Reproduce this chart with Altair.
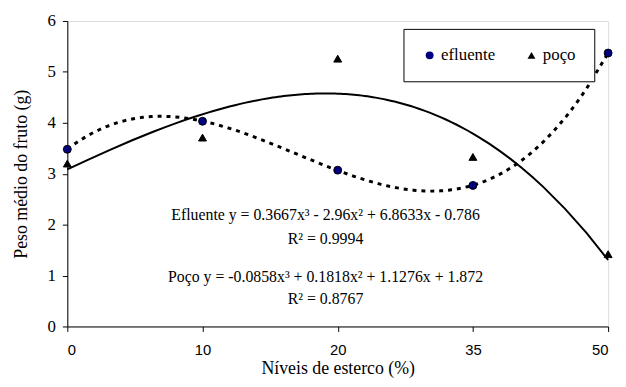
import altair as alt
import pandas as pd

levels = ["0", "10", "20", "35", "50"]
positions = [1, 2, 3, 4, 5]
efluente = [3.48, 4.03, 3.07, 2.77, 5.37]
poco = [3.20, 3.71, 5.26, 3.33, 1.42]

rows = []
for p, lv, e, w in zip(positions, levels, efluente, poco):
    rows.append({"pos": p, "nivel": lv, "serie": "efluente", "peso": e})
    rows.append({"pos": p, "nivel": lv, "serie": "poço", "peso": w})
df = pd.DataFrame(rows)

ann_text = [
    "Efluente y = 0.3667x³ - 2.96x² + 6.8633x - 0.786",
    "R² = 0.9994",
    "Poço y = -0.0858x³ + 0.1818x² + 1.1276x + 1.872",
    "R² = 0.8767",
]
ann_x = [2.91, 2.91, 2.91, 2.91]
ann_y = [2.19, 1.71, 0.97, 0.54]
ann = pd.DataFrame({"t": ann_text, "x": ann_x, "y": ann_y})

serif = "Liberation Serif"
sans = "Liberation Sans"

xscale = alt.Scale(domain=[1, 5], nice=False, zero=False)
yscale = alt.Scale(domain=[0, 6], nice=False)

xaxis = alt.Axis(
    values=positions,
    labelExpr="['0','10','20','35','50'][datum.value-1]",
    title="Níveis de esterco (%)",
    grid=False,
    domainColor="black", tickColor="black", tickSize=5,
    labelFont=sans, labelFontSize=15, labelColor="black", labelPadding=11,
    titleFont=serif, titleFontSize=18, titleFontWeight="normal", titleColor="black",
    titlePadding=3,
)
yaxis = alt.Axis(
    values=[0, 1, 2, 3, 4, 5, 6],
    title="Peso médio do fruto (g)",
    grid=False,
    domainColor="black", tickColor="black", tickSize=5,
    labelFont=serif, labelFontSize=17, labelColor="black", labelPadding=7,
    titleFont=serif, titleFontSize=18, titleFontWeight="normal", titleColor="black",
    titlePadding=17,
)

legend = alt.Legend(title=None, orient="none", legendX=340, legendY=8,
                    direction="horizontal", columns=2, padding=18,
                    strokeColor="black", fillColor="white",
                    labelFont=serif, labelFontSize=17, labelColor="black",
                    labelOffset=3, columnPadding=28,
                    symbolStrokeColor="black", symbolStrokeWidth=1,
                    symbolSize=64)

base = alt.Chart(df)

line_e = base.transform_filter(alt.datum.serie == "efluente").transform_regression(
    "pos", "peso", method="poly", order=3, extent=[1, 5]
).mark_line(color="black", strokeWidth=3, strokeDash=[4, 5]).encode(
    x=alt.X("pos:Q", scale=xscale, axis=xaxis),
    y=alt.Y("peso:Q", scale=yscale, axis=yaxis),
)

line_p = base.transform_filter(alt.datum.serie == "poço").transform_regression(
    "pos", "peso", method="poly", order=3, extent=[1, 5]
).mark_line(color="black", strokeWidth=2).encode(
    x=alt.X("pos:Q", scale=xscale),
    y=alt.Y("peso:Q", scale=yscale),
)

points = base.mark_point(filled=True, opacity=1, stroke="black", strokeWidth=1, size=64).encode(
    x=alt.X("pos:Q", scale=xscale),
    y=alt.Y("peso:Q", scale=yscale),
    fill=alt.Fill("serie:N", scale=alt.Scale(domain=["efluente", "poço"], range=["#000080", "black"]),
                  legend=legend),
    shape=alt.Shape("serie:N", scale=alt.Scale(domain=["efluente", "poço"], range=["circle", "triangle-up"]),
                    legend=legend),
)

texts = alt.Chart(ann).mark_text(font=serif, fontSize=16, color="black", align="center",
                                 baseline="middle").encode(
    x=alt.X("x:Q", scale=xscale),
    y=alt.Y("y:Q", scale=yscale),
    text="t:N",
)

chart = alt.layer(line_e, line_p, points, texts).properties(
    width=547, height=309,
    padding={"left": 60, "top": 11, "right": 10, "bottom": 51},
    autosize=alt.AutoSizeParams(type="none"),
).configure_view(stroke="#999999", strokeWidth=1.5).configure(background="white")

chart.save("out.html", embed_options={"renderer": "svg", "actions": False})
